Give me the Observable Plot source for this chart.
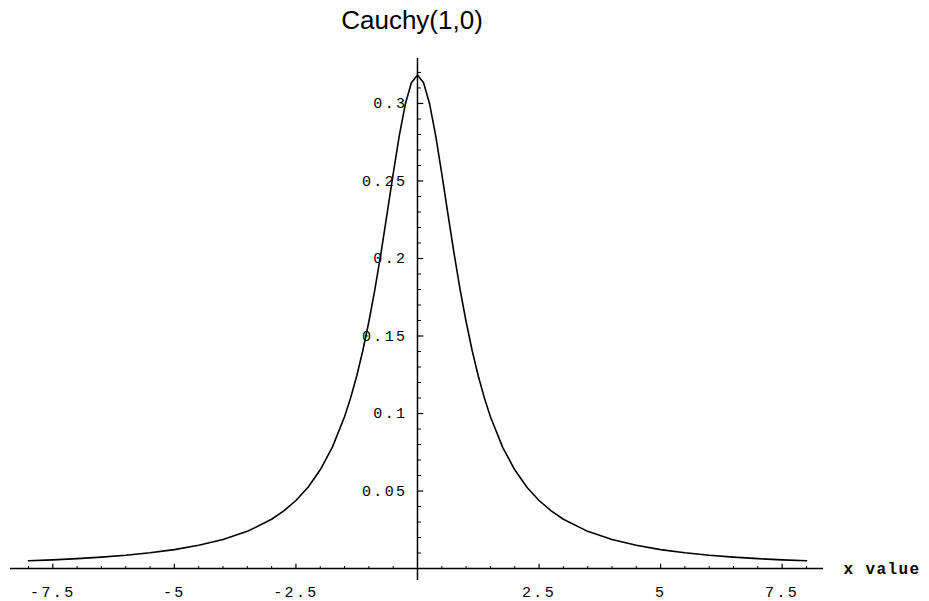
<!DOCTYPE html>
<html>
<head>
<meta charset="utf-8">
<script src="https://cdn.jsdelivr.net/npm/d3@7"></script>
<script src="https://cdn.jsdelivr.net/npm/@observablehq/plot@0.6"></script>
<style>
  html, body { margin: 0; padding: 0; background: #fff; }
  #wrap { position: relative; width: 929px; }
  #titlebox { height: 40px; position: relative; }
  #title { position: absolute; left: 412px; top: 7px; transform: translateX(-50%); white-space: nowrap; font-family: "Liberation Sans", Arial, sans-serif; font-size: 26px; line-height: 27px; color: #000; }
</style>
</head>
<body>
<div id="wrap">
<div id="titlebox"><span id="title">Cauchy(1,0)</span></div>
<div id="chart"></div>
</div>
<script>
// Curve
const xs = [-8,-7.5,-7,-6.5,-6,-5.5,-5,-4.5,-4,-3.5,-3,-2.75,-2.5,-2.25,-2,-1.75,-1.5,-1.375,-1.25,-1.125,-1,-0.875,-0.75,-0.625,-0.5,-0.375,-0.25,-0.125,0,0.125,0.25,0.375,0.5,0.625,0.75,0.875,1,1.125,1.25,1.375,1.5,1.75,2,2.25,2.5,2.75,3,3.5,4,4.5,5,5.5,6,6.5,7,7.5,8];
const ys = [0.005,0.0056,0.0064,0.0074,0.0086,0.0102,0.0122,0.015,0.0187,0.024,0.0318,0.0372,0.0439,0.0525,0.0637,0.0783,0.0979,0.1101,0.1242,0.1405,0.1592,0.1803,0.2037,0.2289,0.2546,0.2791,0.2996,0.3134,0.3183,0.3134,0.2996,0.2791,0.2546,0.2289,0.2037,0.1803,0.1592,0.1405,0.1242,0.1101,0.0979,0.0783,0.0637,0.0525,0.0439,0.0372,0.0318,0.024,0.0187,0.015,0.0122,0.0102,0.0086,0.0074,0.0064,0.0056,0.005];

// Axis ticks
const xMajor = [-7.5,-5,-2.5,2.5,5,7.5];
const xLabels = ["-7.5","-5","-2.5","2.5","5","7.5"];
const xMinor = [-8,-7,-6.5,-6,-5.5,-4.5,-4,-3.5,-3,-2,-1.5,-1,-0.5,0.5,1,1.5,2,3,3.5,4,4.5,5.5,6,6.5,7,8];
const yMajor = [0.05,0.1,0.15,0.2,0.25,0.3];
const yLabels = ["0.05","0.1","0.15","0.2","0.25","0.3"];
const yMinor = [0.01,0.02,0.03,0.04,0.06,0.07,0.08,0.09,0.11,0.12,0.13,0.14,0.16,0.17,0.18,0.19,0.21,0.22,0.23,0.24,0.26,0.27,0.28,0.29,0.31,0.32];
const xAxisLabel = "x value";

const curve = xs.map((x, i) => ({x, y: ys[i]}));
const xDomain = [-8.37, 8.35];
const yDomain = [-0.0077, 0.329];
const mono = "Liberation Mono, Courier New, monospace";

const plot = Plot.plot({
  width: 929,
  height: 561,
  marginLeft: 10,
  marginRight: 106,
  marginTop: 18,
  marginBottom: 21,
  x: {domain: xDomain, axis: null},
  y: {domain: yDomain, axis: null},
  style: {background: "#fff", overflow: "visible"},
  marks: [
    Plot.ruleY([0], {stroke: "#000", strokeWidth: 1.5}),
    Plot.ruleX([0], {stroke: "#000", strokeWidth: 1.5}),
    Plot.ruleX(xMajor, {x: d => d, y1: 0, y2: 0.0028, stroke: "#000", strokeWidth: 1.2}),
    Plot.ruleX(xMinor, {x: d => d, y1: 0, y2: 0.0013, stroke: "#000", strokeWidth: 1}),
    Plot.ruleY(yMajor, {y: d => d, x1: 0, x2: 0.13, stroke: "#000", strokeWidth: 1.2}),
    Plot.ruleY(yMinor, {y: d => d, x1: 0, x2: 0.08, stroke: "#000", strokeWidth: 1}),
    Plot.text(xMajor, {x: d => d, y: 0, dy: 24, text: (d, i) => xLabels[i], fontFamily: mono, fontSize: 15, fill: "#000", textAnchor: "middle"}),
    Plot.text(yMajor, {x: 0, y: d => d, dx: -10, text: (d, i) => yLabels[i], fontFamily: mono, fontSize: 15, fill: "#000", textAnchor: "end"}),
    Plot.text([xAxisLabel], {x: xDomain[1], y: 0, dx: 20, text: d => d, fontFamily: mono, fontSize: 16, fontWeight: "bold", fill: "#000", textAnchor: "start"}),
    Plot.line(curve, {x: "x", y: "y", stroke: "#000", strokeWidth: 1.6})
  ]
});
plot.querySelectorAll("text").forEach(t => t.setAttribute("letter-spacing", "2.4"));
plot.querySelectorAll("text").forEach(t => { if (t.textContent === xAxisLabel) t.setAttribute("letter-spacing", "1.4"); });
document.getElementById("chart").appendChild(plot);
</script>
</body>
</html>
